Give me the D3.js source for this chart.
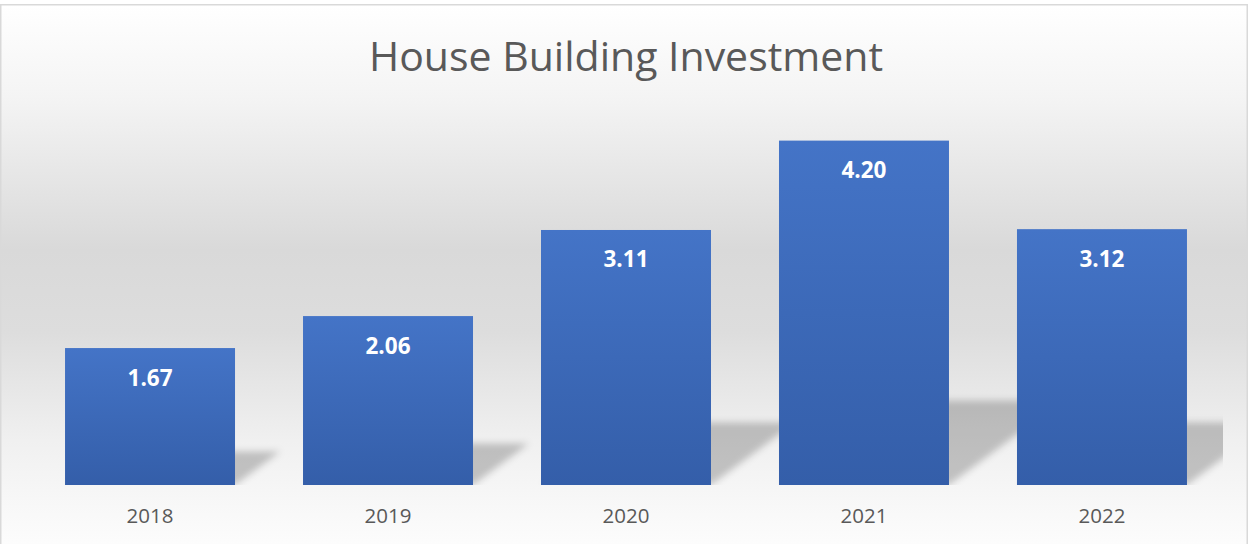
<!DOCTYPE html>
<html>
<head>
<meta charset="utf-8">
<script src="https://cdn.jsdelivr.net/npm/d3@7/dist/d3.min.js"></script>
<style>
  html, body { margin: 0; padding: 0; background: #ffffff; }
  svg { display: block; }
</style>
</head>
<body>
<svg id="chart" width="1250" height="544"></svg>
<script>
const title = "House Building Investment";
const categories = ["2018", "2019", "2020", "2021", "2022"];
const values = [1.67, 2.06, 3.11, 4.20, 3.12];
const yDomain = [0, 4.5];

const W = 1250, H = 544;
const svg = d3.select("#chart");
const defs = svg.append("defs");

// background gradient
const bg = defs.append("linearGradient").attr("id", "bgGrad")
  .attr("x1", 0).attr("y1", 0).attr("x2", 0).attr("y2", 1);
[[0, "#ffffff"], [0.17, "#f4f4f4"], [0.45, "#d9d9d9"], [0.6, "#dddddd"], [0.8, "#f0f0f0"], [0.92, "#f8f8f8"], [1, "#fdfdfd"]]
  .forEach(([o, c]) => bg.append("stop").attr("offset", o).attr("stop-color", c));

const barGrad = defs.append("linearGradient").attr("id", "barGrad")
  .attr("x1", 0).attr("y1", 0).attr("x2", 0).attr("y2", 1);
barGrad.append("stop").attr("offset", 0).attr("stop-color", "#4474c7");
barGrad.append("stop").attr("offset", 1).attr("stop-color", "#345ea9");

const blur = defs.append("filter").attr("id", "shBlur")
  .attr("x", "-20%").attr("y", "-20%").attr("width", "140%").attr("height", "140%");
blur.append("feGaussianBlur").attr("stdDeviation", 3.5);

// chart area
svg.append("rect").attr("x", 0.75).attr("y", 4.75).attr("width", 1246.5).attr("height", 545)
  .attr("fill", "url(#bgGrad)").attr("stroke", "#d9d9d9").attr("stroke-width", 1.5);

const plot = { left: 31, right: 1221, top: 116, bottom: 485 };

defs.append("clipPath").attr("id", "plotClip").append("rect")
  .attr("x", plot.left - 30).attr("y", plot.top).attr("width", 1223 - plot.left + 30).attr("height", plot.bottom - plot.top);

const x = d3.scaleBand().domain(categories).range([plot.left, plot.right])
  .paddingInner(0.2857).paddingOuter(0.143);
const y = d3.scaleLinear().domain(yDomain).range([plot.bottom, plot.bottom - 82 * 4.5]);

// shadows
const s = 0.245, k = 0.33;
const shadowG = svg.append("g").attr("clip-path", "url(#plotClip)");
shadowG.selectAll("path").data(values).join("path")
  .attr("d", (d, i) => {
    const x0 = x(categories[i]) + 2, x1 = x(categories[i]) + x.bandwidth();
    const b = y(0), h = y(0) - y(d);
    return `M${x0},${b} L${x1},${b} L${x1 + k * h},${b - s * h} L${x0 + k * h},${b - s * h} Z`;
  })
  .attr("fill", "#000").attr("fill-opacity", 0.21).attr("filter", "url(#shBlur)");

// bars
svg.append("g").selectAll("rect").data(values).join("rect")
  .attr("x", (d, i) => x(categories[i]))
  .attr("y", d => y(d))
  .attr("width", x.bandwidth())
  .attr("height", d => y(0) - y(d))
  .attr("fill", "url(#barGrad)");

// value labels
svg.append("g").selectAll("text").data(values).join("text")
  .attr("x", (d, i) => x(categories[i]) + x.bandwidth() / 2)
  .attr("y", d => y(d) + 37.5)
  .attr("text-anchor", "middle")
  .attr("font-family", "'Open Sans', sans-serif")
  .attr("font-weight", 700)
  .attr("font-size", 22.5)
  .attr("fill", "#ffffff")
  .text(d => d.toFixed(2));

// x axis
const xAxis = svg.append("g").attr("transform", `translate(0,${plot.bottom})`)
  .call(d3.axisBottom(x).tickSize(0).tickPadding(0));
xAxis.select(".domain").remove();
xAxis.selectAll("text")
  .attr("dy", 0).attr("y", 38)
  .attr("font-family", "'Open Sans', sans-serif")
  .attr("font-size", 20.5)
  .attr("fill", "#595959");

// title
svg.append("text").attr("x", 626).attr("y", 71)
  .attr("text-anchor", "middle")
  .attr("font-family", "'Open Sans', sans-serif")
  .attr("font-size", 41)
  .attr("fill", "#595959")
  .text(title);
</script>
</body>
</html>
